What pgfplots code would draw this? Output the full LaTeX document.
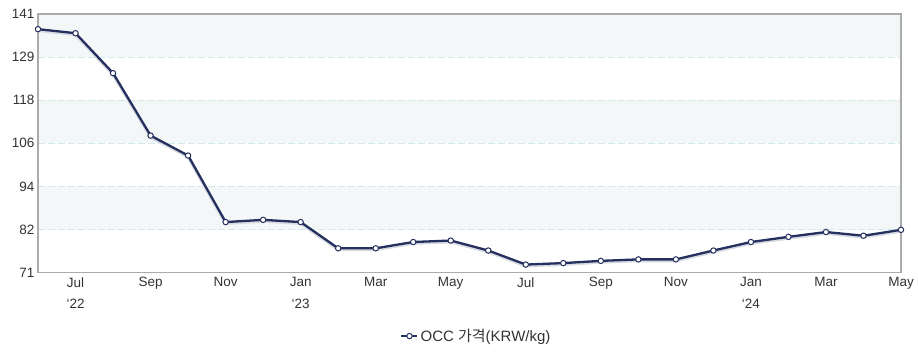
\documentclass[border=0pt]{standalone}
\usepackage{pgfplots}
\pgfplotsset{compat=1.18}
\usepackage{fontspec}
\setmainfont{Liberation Sans}
\newfontfamily\kr{Noto Sans CJK KR}
\definecolor{navy}{HTML}{25305F}
\definecolor{band}{HTML}{F3F7F8}
\definecolor{gridc}{HTML}{D3E9EA}
\definecolor{framec}{HTML}{ABABAB}
\definecolor{txt}{HTML}{333333}
\begin{document}
\begin{tikzpicture}
\path (0,0) rectangle (918pt,353pt);
\begin{axis}[
  at={(38pt,80.3pt)}, anchor=south west,
  scale only axis, width=863pt, height=258.7pt,
  set layers, clip=false,
  xmin=0, xmax=23, ymin=71, ymax=141,
  xtick={1,3,5,7,9,11,13,15,17,19,21,23},
  xticklabels={Jul\\`22,Sep,Nov,Jan\\`23,Mar,May,Jul,Sep,Nov,Jan\\`24,Mar,May},
  xticklabel style={align=center, anchor=north, yshift=-1pt, font=\fontsize{13.5}{21.5}\selectfont, text=txt},
  ytick={71,82.6667,94.3333,106,117.6667,129.3333,141},
  yticklabels={71,82,94,106,118,129,141},
  yticklabel style={font=\fontsize{13.5}{15}\selectfont, text=txt, xshift=0pt},
  /pgf/number format/assume math mode=true,
  major tick length=0pt,
  ymajorgrids, major grid style={gridc, dashed, dash pattern=on 7pt off 3pt, line width=0.9pt},
  axis line style={framec, line width=1.2pt},
  legend style={at={(0.508,-0.245)}, anchor=center, draw=none, fill=none,
    font=\fontsize{15}{17}\selectfont, text=txt},
  legend image code/.code={\draw[mark repeat=2,mark phase=2,#1] plot coordinates {(0pt,0pt) (8pt,0pt) (16pt,0pt)};},
]
\addplot[draw=none, fill=band, on layer=axis background, forget plot] coordinates {(0,129.3333) (23,129.3333) (23,141) (0,141) (0,129.3333)};
\addplot[draw=none, fill=band, on layer=axis background, forget plot] coordinates {(0,106) (23,106) (23,117.6667) (0,117.6667) (0,106)};
\addplot[draw=none, fill=band, on layer=axis background, forget plot] coordinates {(0,82.6667) (23,82.6667) (23,94.3333) (0,94.3333) (0,82.6667)};
\addplot[navy!18, line width=3.5pt, forget plot] coordinates {
(0,136.6) (1,135.5) (2,124.7) (3,107.8) (4,102.4) (5,84.4) (6,85.0) (7,84.4)
(8,77.3) (9,77.3) (10,79.0) (11,79.4) (12,76.7) (13,72.9) (14,73.3) (15,73.9)
(16,74.3) (17,74.3) (18,76.7) (19,79.0) (20,80.4) (21,81.7) (22,80.7) (23,82.3)};
\addplot[navy, line width=2.3pt, mark=*, mark size=2.7pt,
  mark options={fill=white, draw=navy, line width=1pt}] coordinates {
(0,136.9) (1,135.8) (2,125.0) (3,108.1) (4,102.7) (5,84.7) (6,85.3) (7,84.7)
(8,77.6) (9,77.6) (10,79.3) (11,79.7) (12,77.0) (13,73.2) (14,73.6) (15,74.2)
(16,74.6) (17,74.6) (18,77.0) (19,79.3) (20,80.7) (21,82.0) (22,81.0) (23,82.6)};
\addlegendentry{OCC {\kr 가격}(KRW/kg)}
\end{axis}
\end{tikzpicture}
\end{document}
